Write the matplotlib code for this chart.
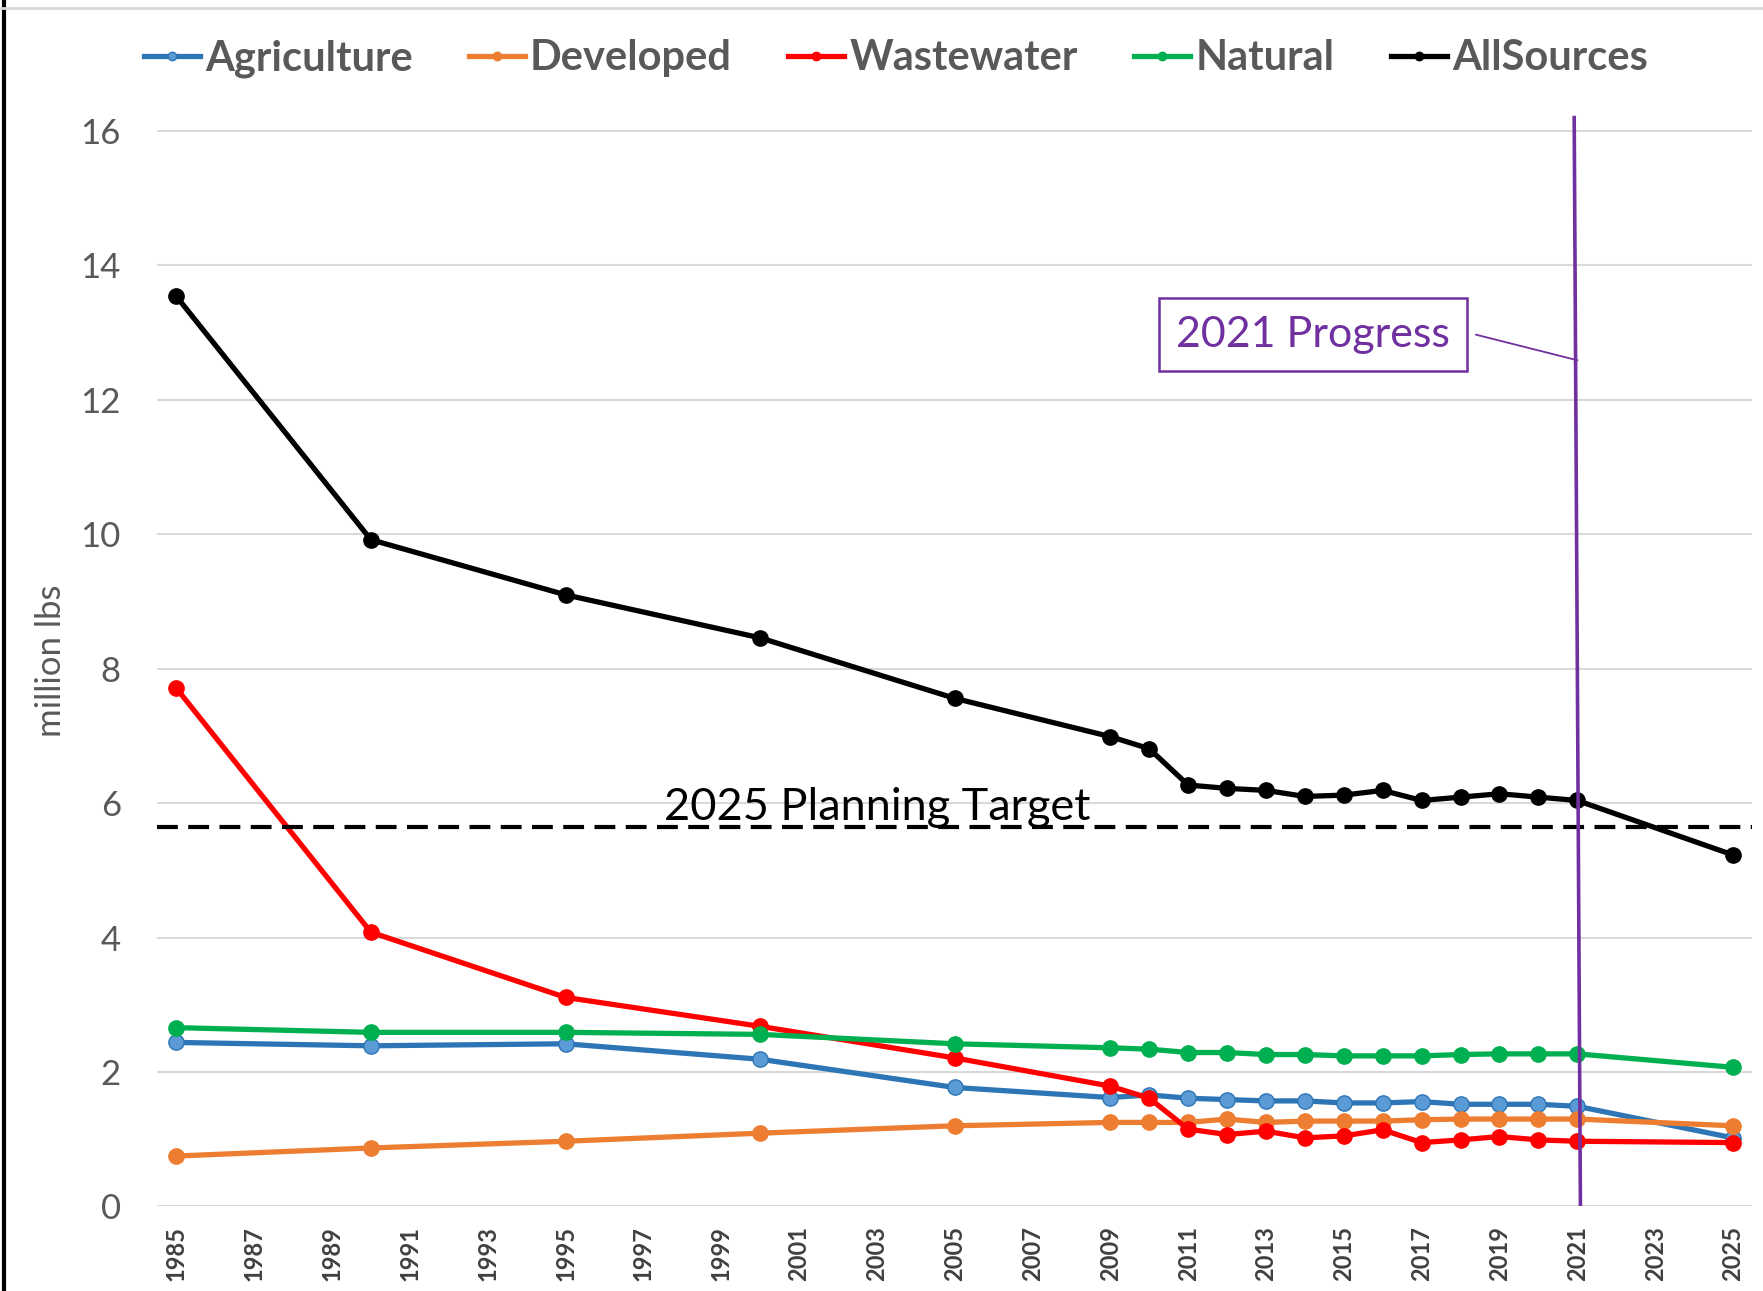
import matplotlib.pyplot as plt
from matplotlib.lines import Line2D

years = [1985, 1990, 1995, 2000, 2005, 2009, 2010, 2011, 2012, 2013, 2014,
         2015, 2016, 2017, 2018, 2019, 2020, 2021, 2025]

agriculture = [2.44, 2.39, 2.42, 2.19, 1.77, 1.62, 1.66, 1.61, 1.59, 1.57, 1.57,
               1.54, 1.54, 1.56, 1.52, 1.52, 1.52, 1.49, 1.02]
developed = [0.75, 0.87, 0.97, 1.09, 1.20, 1.25, 1.25, 1.25, 1.30, 1.25, 1.27,
             1.27, 1.27, 1.29, 1.30, 1.30, 1.30, 1.30, 1.20]
wastewater = [7.71, 4.08, 3.11, 2.68, 2.21, 1.79, 1.61, 1.15, 1.07, 1.12, 1.02,
              1.05, 1.14, 0.95, 0.99, 1.04, 0.99, 0.97, 0.95]
natural = [2.66, 2.59, 2.59, 2.56, 2.42, 2.36, 2.34, 2.29, 2.29, 2.26, 2.26,
           2.24, 2.24, 2.24, 2.26, 2.27, 2.27, 2.27, 2.07]
all_sources = [13.54, 9.92, 9.10, 8.46, 7.56, 6.99, 6.81, 6.27, 6.22, 6.19, 6.10,
               6.12, 6.19, 6.04, 6.09, 6.14, 6.09, 6.04, 5.23]

planning_target = 5.64
progress_year = 2021

series = [
    ('Agriculture', agriculture, '#2E75B6', '#5B9BD5'),
    ('Developed', developed, '#ED7D31', '#ED7D31'),
    ('Wastewater', wastewater, '#FF0000', '#FF0000'),
    ('Natural', natural, '#00B050', '#00B050'),
    ('AllSources', all_sources, '#000000', '#000000'),
]

plt.rcParams['font.family'] = ['Lato', 'DejaVu Sans']

fig = plt.figure(figsize=(17.63, 12.91), dpi=100)
ax = fig.add_axes([0.089, 0.0655, 0.905, 0.846])

for name, vals, col, face in series:
    ax.plot(years, vals, color=col, lw=3.8, marker='o', markersize=11,
            markerfacecolor=face, markeredgecolor=col, label=name, zorder=3)

ax.axhline(planning_target, color='black', lw=3, ls=(0, (5, 2.5)), zorder=4)
ax.text(2003, 5.75, '2025 Planning Target', fontsize=32.5, ha='center',
        va='baseline', color='black', zorder=5)

# 2021 progress marker
ax.plot([progress_year - 0.08, progress_year + 0.08], [16.2, 0], color='#7030A0',
        lw=2.6, zorder=6)
ax.plot([2018.4, progress_year], [12.97, 12.59], color='#7030A0', lw=1.3, zorder=6)
ax.text(2014.2, 12.97, '2021 Progress', fontsize=31, color='#7030A0', ha='center',
        va='center', zorder=7,
        bbox=dict(boxstyle='square,pad=0.4', fc='white', ec='#7030A0', lw=1.8))

ax.set_xlim(1984.5, 2025.5)
ax.set_ylim(0, 16.25)
ax.set_yticks(range(0, 17, 2))
ax.set_xticks(range(1985, 2026, 2))
ax.set_xticklabels([str(y) for y in range(1985, 2026, 2)], rotation=90,
                   fontsize=17, fontweight='bold', color='#404040')
ax.tick_params(axis='y', labelsize=25, colors='#595959', length=0, pad=26)
ax.tick_params(axis='x', length=0, pad=14)
ax.grid(axis='y', color='#D9D9D9', lw=1.5)
ax.set_axisbelow(True)
for s in ax.spines.values():
    s.set_visible(False)
ax.set_ylabel('million lbs', fontsize=25, color='#595959', labelpad=10)

fig.legend(loc='center', bbox_to_anchor=(0.508, 0.9547), ncol=5, frameon=False,
           prop={'size': 30, 'weight': 'bold'}, labelcolor='#595959',
           handlelength=1.35, handletextpad=0.12, columnspacing=1.35, markerscale=0.55)

# frame edges of the cropped chart
fig.add_artist(Line2D([0.002, 0.002], [0, 1], color='black', lw=3))
fig.add_artist(Line2D([0, 1], [0.994, 0.994], color='#D9D9D9', lw=2))

fig.savefig('out.png', dpi=100, facecolor='white')
